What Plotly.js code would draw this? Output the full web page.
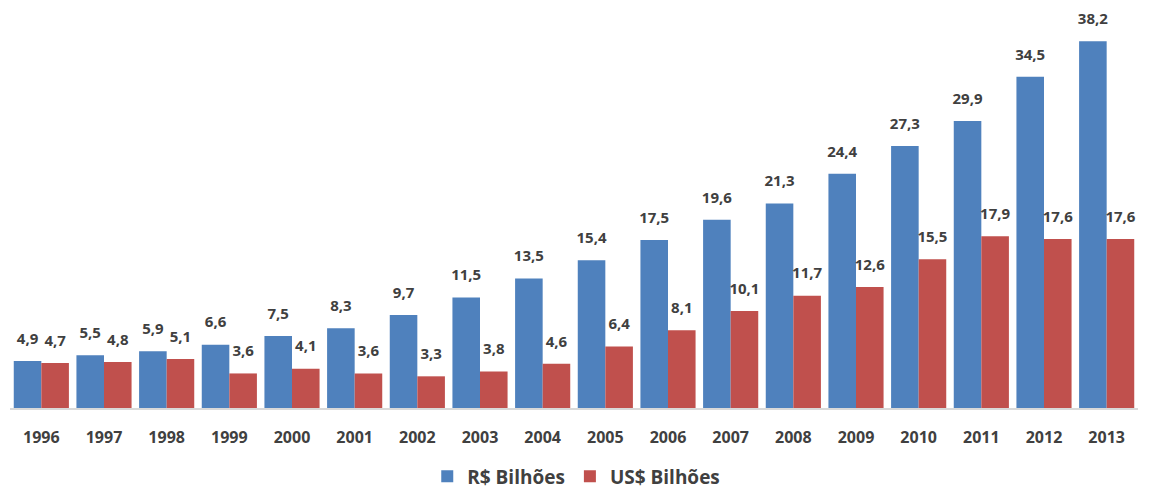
<!DOCTYPE html>
<html>
<head>
<meta charset="utf-8">
<script src="https://cdn.plot.ly/plotly-3.0.1.min.js"></script>
<style>html,body{margin:0;padding:0;background:#fff;}#chart{width:1149px;height:492px;}</style>
</head>
<body>
<div id="chart"></div>
<script>
const years = ['1996','1997','1998','1999','2000','2001','2002','2003','2004','2005','2006','2007','2008','2009','2010','2011','2012','2013'];
const brl = [4.9,5.5,5.9,6.6,7.5,8.3,9.7,11.5,13.5,15.4,17.5,19.6,21.3,24.4,27.3,29.9,34.5,38.2];
const usd = [4.7,4.8,5.1,3.6,4.1,3.6,3.3,3.8,4.6,6.4,8.1,10.1,11.7,12.6,15.5,17.9,17.6,17.6];
const seriesNames = ['R$ Bilhões','US$ Bilhões'];
const colors = ['#4F81BD','#C0504D'];

const FONT = '"Open Sans", Lato, sans-serif';
const textFont = {family:FONT, size:15, color:'#404040', weight:700};

const traces = [];
[brl, usd].forEach((vals, i) => {
  traces.push({type:'bar', name:seriesNames[i], x:years, y:vals, marker:{color:colors[i]},
    offsetgroup:'g'+i, hoverinfo:'none'});
});
[brl, usd].forEach((vals, i) => {
  traces.push({type:'scatter', mode:'markers+text', x:years, y:vals, showlegend:false,
    offsetgroup:'g'+i, marker:{size:20, opacity:0, color:colors[i]},
    texttemplate:'%{y:.1f}', textposition:'top center', textfont:textFont,
    cliponaxis:false, hoverinfo:'none'});
});

const layout = {
  width:1149, height:492,
  margin:{l:10, r:11, t:24, b:84, autoexpand:false},
  separators:',.',
  barmode:'group', bargap:0.12, bargroupgap:0,
  scattermode:'group', scattergap:0.12,
  paper_bgcolor:'#fff', plot_bgcolor:'#fff',
  showlegend:true,
  legend:{orientation:'h', x:0.502, xanchor:'center', y:-0.178, yanchor:'middle',
          font:{family:FONT, size:19, color:'#404040', weight:700},
          itemwidth:30, borderwidth:0},
  xaxis:{type:'category', showline:true, linecolor:'#d9d9d9', linewidth:1.5, showgrid:false, zeroline:false,
         ticks:'', ticklabelstandoff:14,
         tickfont:{family:FONT, size:16, color:'#404040', weight:700}},
  yaxis:{range:[0,40], visible:false, showgrid:false, zeroline:false}
};
Plotly.newPlot('chart', traces, layout, {displayModeBar:false, staticPlot:true});
</script>
</body>
</html>
